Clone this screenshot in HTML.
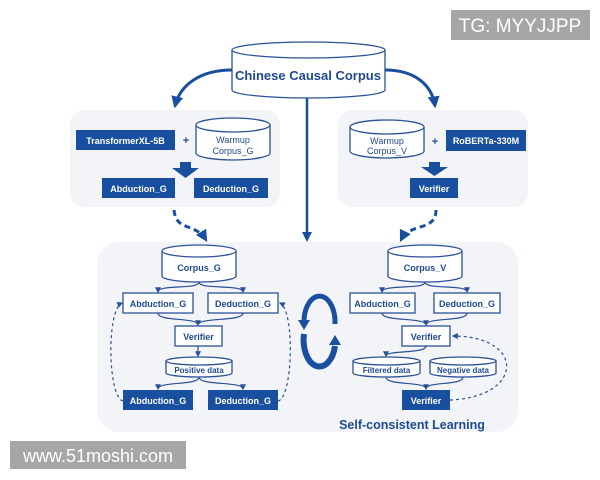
<!DOCTYPE html>
<html><head><meta charset="utf-8"><style>
html,body{margin:0;padding:0;background:#fff;}
svg{display:block;font-family:"Liberation Sans","DejaVu Sans",sans-serif;}
.t{font-weight:bold;fill:#1f4a8f;text-anchor:middle;}
.w{font-weight:bold;fill:#fff;text-anchor:middle;}
.o{fill:#fff;stroke:#2b5196;stroke-width:1.3;}
.f{fill:#184f9f;}
.c{fill:none;stroke:#2b5196;stroke-width:1.2;}
</style></head><body>
<svg width="600" height="480" viewBox="0 0 600 480">
<defs>
<marker id="a" viewBox="0 0 10 10" refX="8" refY="5" markerWidth="5" markerHeight="5" orient="auto"><path d="M0,0 L10,5 L0,10 Z" fill="#2b5196"/></marker>
<marker id="b" viewBox="0 0 10 10" refX="8" refY="5" markerWidth="4" markerHeight="4" orient="auto"><path d="M0,0 L10,5 L0,10 Z" fill="#1a4f9f"/></marker>
</defs>
<rect x="70" y="110" width="210" height="97" rx="14" fill="#f2f4f8"/>
<rect x="338" y="110" width="190" height="97" rx="14" fill="#f2f4f8"/>
<rect x="97" y="242" width="421" height="190" rx="22" fill="#f2f4f8"/>
<path d="M232,70 C200,70 180,85 175,106" fill="none" stroke="#1a4f9f" stroke-width="3" marker-end="url(#b)"/>
<path d="M385,70 C415,70 432,85 435,106" fill="none" stroke="#1a4f9f" stroke-width="3" marker-end="url(#b)"/>
<path d="M307,98 V240" fill="none" stroke="#1a4f9f" stroke-width="2.5" marker-end="url(#b)"/>
<path class="o" d="M232,50 V90 A76.5 8 0 0 0 385,90 V50"/>
<ellipse class="o" cx="308.5" cy="50" rx="76.5" ry="8"/>
<text class="t" x="308" y="80" font-size="13">Chinese Causal Corpus</text>
<rect class="f" x="76" y="130" width="99" height="20"/>
<text class="w" x="125.5" y="144" font-size="9">TransformerXL-5B</text>
<text class="t" x="186" y="144" font-size="11">+</text>
<path class="o" d="M196,125 V153 A37 7 0 0 0 270,153 V125"/>
<ellipse class="o" cx="233" cy="125" rx="37" ry="7"/>
<text class="t" x="233" y="143" font-size="9" style="font-weight:normal">Warmup</text>
<text class="t" x="233" y="154" font-size="9" style="font-weight:normal">Corpus_G</text>
<path class="f" d="M180,162 H191 V168 H199 L185.5,178 L172,168 H180 Z"/>
<rect class="f" x="102" y="178" width="73" height="20"/>
<text class="w" x="138.5" y="192" font-size="9">Abduction_G</text>
<rect class="f" x="194" y="178" width="74" height="20"/>
<text class="w" x="231" y="192" font-size="9">Deduction_G</text>
<path d="M174,210 C176,232 195,222 206,240" fill="none" stroke="#1a4f9f" stroke-width="3" stroke-dasharray="6,4" marker-end="url(#b)"/>
<path class="o" d="M350,127 V151 A37 7 0 0 0 424,151 V127"/>
<ellipse class="o" cx="387" cy="127" rx="37" ry="7"/>
<text class="t" x="387" y="144" font-size="9" style="font-weight:normal">Warmup</text>
<text class="t" x="387" y="154" font-size="9" style="font-weight:normal">Corpus_V</text>
<text class="t" x="435" y="145" font-size="11">+</text>
<rect class="f" x="446" y="130" width="80" height="21"/>
<text class="w" x="486" y="144" font-size="9">RoBERTa-330M</text>
<path class="f" d="M429,162 H440 V167 H448 L434.5,176 L421,167 H429 Z"/>
<rect class="f" x="410" y="178" width="48" height="20"/>
<text class="w" x="434" y="192" font-size="9">Verifier</text>
<path d="M436,210 C436,232 410,222 401,240" fill="none" stroke="#1a4f9f" stroke-width="3" stroke-dasharray="6,4" marker-end="url(#b)"/>
<path class="o" d="M162,251 V276 A37 6 0 0 0 236,276 V251"/>
<ellipse class="o" cx="199" cy="251" rx="37" ry="6"/>
<text class="t" x="199" y="271" font-size="9">Corpus_G</text>
<path class="c" d="M199,282 C199,290 158,284 158,292" marker-end="url(#a)"/>
<path class="c" d="M199,282 C199,290 243,284 243,292" marker-end="url(#a)"/>
<rect class="o" x="123" y="293" width="70" height="20"/>
<text class="t" x="158" y="307" font-size="9">Abduction_G</text>
<rect class="o" x="208" y="293" width="70" height="20"/>
<text class="t" x="243" y="307" font-size="9">Deduction_G</text>
<path class="c" d="M158,313 C158,322 198,317 198,325" marker-end="url(#a)"/>
<path class="c" d="M243,313 C243,322 198,317 198,325"/>
<rect class="o" x="175" y="326" width="47" height="20"/>
<text class="t" x="198.5" y="340" font-size="9">Verifier</text>
<path class="c" d="M198,346 V356" marker-end="url(#a)"/>
<path class="o" d="M166,361 V373 A33 4 0 0 0 232,373 V361"/>
<ellipse class="o" cx="199" cy="361" rx="33" ry="4"/>
<text class="t" x="199" y="373" font-size="8">Positive data</text>
<path class="c" d="M199,377 C199,386 158,381 158,389" marker-end="url(#a)"/>
<path class="c" d="M199,377 C199,386 243,381 243,389" marker-end="url(#a)"/>
<rect class="f" x="123" y="390" width="70" height="20"/>
<text class="w" x="158" y="404" font-size="9">Abduction_G</text>
<rect class="f" x="208" y="390" width="70" height="20"/>
<text class="w" x="243" y="404" font-size="9">Deduction_G</text>
<path class="c" d="M123,401 C108,398 106,310 122,303" stroke-dasharray="3,3" marker-end="url(#a)"/>
<path class="c" d="M278,401 C293,398 295,310 280,303" stroke-dasharray="3,3" marker-end="url(#a)"/>
<!-- cycle -->
<path d="M335,324 A15 25 0 0 0 304,320" fill="none" stroke="#1a4f9f" stroke-width="5"/>
<path d="M298,320 L310,320 L304,330 Z" fill="#1a4f9f"/>
<path d="M304,334 A15 25 0 0 0 335,346" fill="none" stroke="#1a4f9f" stroke-width="6"/>
<path d="M329,345 L341,345 L335,335 Z" fill="#1a4f9f"/>
<path class="o" d="M353,361 V373 A33.5 4 0 0 0 420,373 V361"/>
<path class="o" d="M388,251 V276 A37 6 0 0 0 462,276 V251"/>
<ellipse class="o" cx="425" cy="251" rx="37" ry="6"/>
<text class="t" x="425" y="271" font-size="9">Corpus_V</text>
<path class="c" d="M425,282 C425,290 382,284 382,292" marker-end="url(#a)"/>
<path class="c" d="M425,282 C425,290 467,284 467,292" marker-end="url(#a)"/>
<rect class="o" x="350" y="293" width="65" height="20"/>
<text class="t" x="382.5" y="307" font-size="9">Abduction_G</text>
<rect class="o" x="434" y="293" width="66" height="20"/>
<text class="t" x="467" y="307" font-size="9">Deduction_G</text>
<path class="c" d="M382,313 C382,322 426,317 426,325" marker-end="url(#a)"/>
<path class="c" d="M467,313 C467,322 426,317 426,325"/>
<rect class="o" x="402" y="326" width="48" height="20"/>
<text class="t" x="426" y="340" font-size="9">Verifier</text>
<path class="c" d="M426,346 C426,354 386,350 386,356" marker-end="url(#a)"/>
<ellipse class="o" cx="386.5" cy="361" rx="33.5" ry="4"/>
<text class="t" x="386.5" y="373" font-size="8">Filtered data</text>
<path class="o" d="M430,361 V373 A33 4 0 0 0 496,373 V361"/>
<ellipse class="o" cx="463" cy="361" rx="33" ry="4"/>
<text class="t" x="463" y="373" font-size="8">Negative data</text>
<path class="c" d="M386,377 C386,386 426,381 426,389" marker-end="url(#a)"/>
<path class="c" d="M463,377 C463,386 426,381 426,389"/>
<rect class="f" x="402" y="390" width="48" height="20"/>
<text class="w" x="426" y="404" font-size="9">Verifier</text>
<path class="c" d="M450,400 C525,397 525,336 453,336" stroke-dasharray="3,3" marker-end="url(#a)"/>
<text class="t" x="412" y="429" font-size="12.5">Self-consistent Learning</text>
<rect x="451" y="10" width="139" height="30" fill="#a6a6a6"/>
<text x="520" y="32" font-size="19" fill="#fff" text-anchor="middle">TG: MYYJJPP</text>
<rect x="10" y="441" width="176" height="28" fill="#a6a6a6"/>
<text x="98" y="462" font-size="18" fill="#fff" text-anchor="middle">www.51moshi.com</text>
</svg>
</body></html>
